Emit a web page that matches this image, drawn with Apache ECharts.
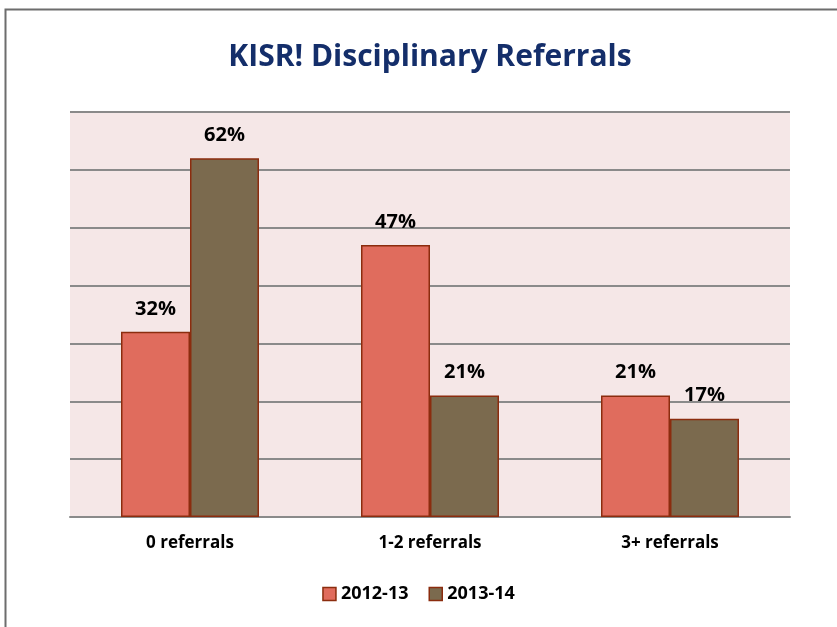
<!DOCTYPE html>
<html><head><meta charset="utf-8">
<script src="https://cdn.jsdelivr.net/npm/echarts@6/dist/echarts.min.js"></script>
<style>html,body{margin:0;padding:0;background:#fff}#c{width:837px;height:627px}</style>
</head><body><div id="c"></div>
<script>
const categories = ['0 referrals', '1-2 referrals', '3+ referrals'];
const series2012 = [32, 47, 21];
const series2013 = [62, 21, 17];
const seriesNames = ['2012-13', '2013-14'];

const chart = echarts.init(document.getElementById('c'));
const font = '"Open Sans", sans-serif';
const lbl = {show: true, position: 'top', formatter: '{c}%', fontFamily: font, fontWeight: 'bold', fontSize: 20, color: '#000', distance: 13};
chart.setOption({
  animation: false,
  backgroundColor: '#fff',
  graphic: [{type: 'rect', shape: {x: 5.5, y: 9.5, width: 900, height: 700}, style: {fill: 'none', stroke: '#6d6d6d', lineWidth: 2}, z: -1}],
  title: {text: 'KISR! Disciplinary Referrals', left: 425, top: 37, textAlign: 'center',
    textStyle: {fontFamily: font, fontWeight: 'bold', fontSize: 30, color: '#142E6A'}},
  grid: {left: 70, right: 47, top: 112, bottom: 110, show: true, backgroundColor: '#F5E7E7', borderWidth: 0},
  legend: {data: seriesNames, bottom: 19, left: 'center', icon: 'rect', itemWidth: 13, itemHeight: 13, itemGap: 20,
    itemStyle: {borderColor: '#8B2C0E', borderWidth: 1.5},
    textStyle: {fontFamily: font, fontWeight: 'bold', fontSize: 18, color: '#000'}},
  xAxis: {type: 'category', data: categories,
    axisLine: {lineStyle: {color: '#8a8a8a', width: 2}}, axisTick: {show: false},
    axisLabel: {fontFamily: font, fontWeight: 'bold', fontSize: 17, color: '#000', margin: 18}},
  yAxis: {type: 'value', min: 0, max: 70, interval: 10, axisLabel: {show: false},
    axisLine: {show: false}, axisTick: {show: false},
    splitLine: {lineStyle: {color: '#8a8a8a', width: 2}}},
  series: [
    {name: seriesNames[0], type: 'bar', data: series2012, barGap: '0%', barCategoryGap: '42.5%',
     itemStyle: {color: '#E06C5D', borderColor: '#8B2C0E', borderWidth: 1.5}, label: lbl},
    {name: seriesNames[1], type: 'bar', data: series2013,
     itemStyle: {color: '#7B6A4E', borderColor: '#8B2C0E', borderWidth: 1.5}, label: lbl}
  ]
});
</script></body></html>
